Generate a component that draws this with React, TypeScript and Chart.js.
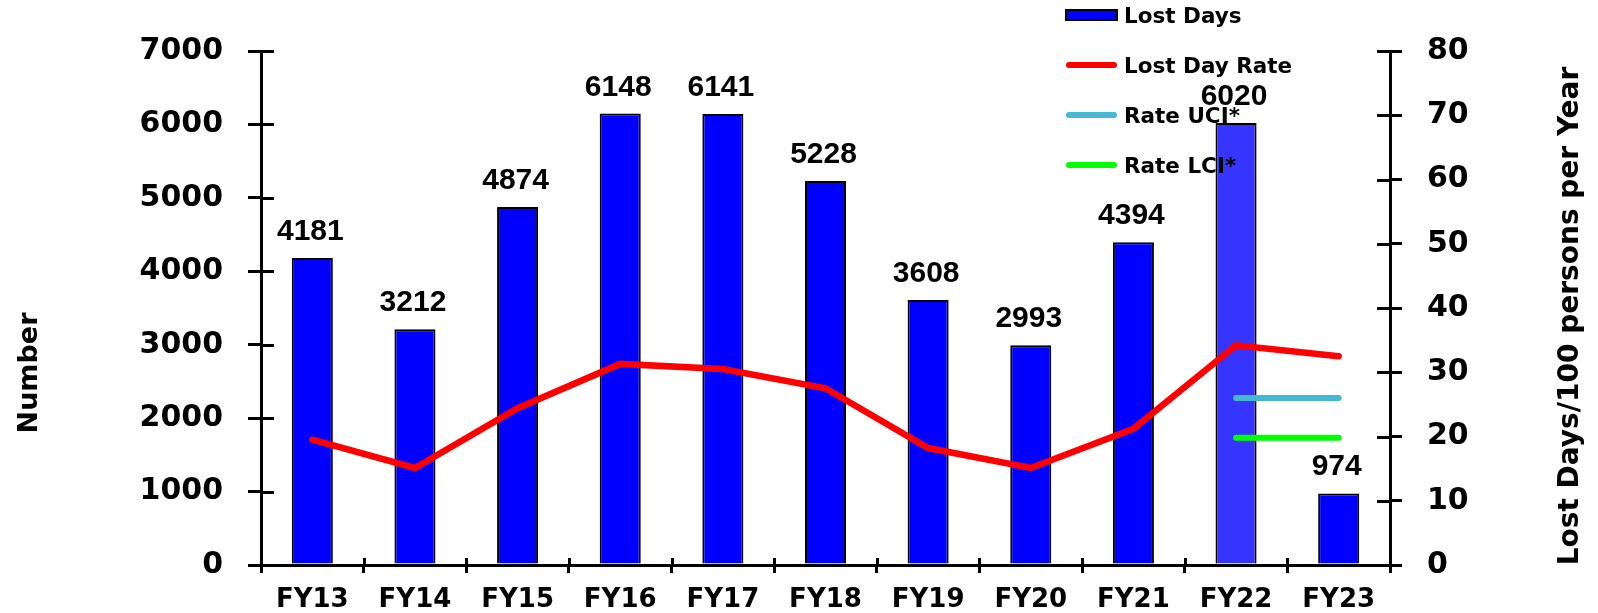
import React, { useEffect, useRef } from 'react';
import { Chart, registerables } from 'chart.js';

Chart.register(...registerables);

const categories = ['FY13', 'FY14', 'FY15', 'FY16', 'FY17', 'FY18', 'FY19', 'FY20', 'FY21', 'FY22', 'FY23'];
const lostDays = [4181, 3212, 4874, 6148, 6141, 5228, 3608, 2993, 4394, 6020, 974];
const lostDayRate = [19.5, 15.1, 24.4, 31.3, 30.5, 27.5, 18.2, 15.1, 21.2, 34.2, 32.5];
const rateUCI = [null, null, null, null, null, null, null, null, null, 26.0, 26.0];
const rateLCI = [null, null, null, null, null, null, null, null, null, 19.8, 19.8];
const leftTicks = { min: 0, max: 7000, step: 1000 };
const rightTicks = { min: 0, max: 80, step: 10 };

const BOLD_DV = "'DejaVu Sans'";

const customPlugin = {
  id: 'customDecor',
  afterDraw(chart: any) {
    const ctx: CanvasRenderingContext2D = chart.ctx;
    const { left, right, bottom } = chart.chartArea;
    const yl = chart.scales.y;
    const yr = chart.scales.y1;
    const xs = chart.scales.x;
    ctx.save();
    // inner halves of the tick marks
    ctx.strokeStyle = '#000';
    ctx.lineWidth = 3;
    ctx.lineCap = 'butt';
    ctx.beginPath();
    yl.ticks.forEach((t: any) => {
      const p = Math.round(yl.getPixelForValue(t.value)) + 0.5;
      ctx.moveTo(left, p);
      ctx.lineTo(left + 13, p);
    });
    yr.ticks.forEach((t: any) => {
      const p = Math.round(yr.getPixelForValue(t.value)) + 0.5;
      ctx.moveTo(right - 13, p);
      ctx.lineTo(right, p);
    });
    for (let i = 1; i < categories.length; i++) {
      const p = Math.round((xs.getPixelForValue(i - 1) + xs.getPixelForValue(i)) / 2) + 0.5;
      ctx.moveTo(p, bottom);
      ctx.lineTo(p, bottom - 7);
    }
    ctx.stroke();

    // value labels above bars
    const meta = chart.getDatasetMeta(0);
    ctx.fillStyle = '#000';
    ctx.font = "bold 30px 'Liberation Sans', Arial, sans-serif";
    ctx.textAlign = 'center';
    ctx.textBaseline = 'alphabetic';
    meta.data.forEach((el: any, i: number) => {
      const v = chart.data.datasets[0].data[i];
      ctx.fillText(String(v), el.x - 2, el.y - 18);
    });

    // axis titles
    ctx.font = `bold 27px ${BOLD_DV}`;
    ctx.save();
    ctx.translate(37, 373);
    ctx.rotate(-Math.PI / 2);
    ctx.textAlign = 'center';
    ctx.fillText('Number', 0, 0);
    ctx.restore();
    ctx.font = `bold 28px ${BOLD_DV}`;
    ctx.save();
    ctx.translate(1578, 316);
    ctx.rotate(-Math.PI / 2);
    ctx.textAlign = 'center';
    ctx.fillText('Lost Days/100 persons per Year', 0, 0);
    ctx.restore();

    // legend
    const lx0 = 1066;
    const lx1 = 1117;
    const centers = [15, 65, 115, 165];
    chart.data.datasets.forEach((ds: any, i: number) => {
      const cy = centers[i];
      if (ds.type === 'bar') {
        ctx.fillStyle = '#0000FF';
        ctx.fillRect(lx0, cy - 5, lx1 - lx0, 10);
        ctx.strokeStyle = '#000';
        ctx.lineWidth = 2;
        ctx.strokeRect(lx0, cy - 5, lx1 - lx0, 10);
      } else {
        ctx.strokeStyle = ds.borderColor;
        ctx.lineWidth = 6;
        ctx.lineCap = 'round';
        ctx.beginPath();
        ctx.moveTo(lx0 + 3, cy);
        ctx.lineTo(lx1 - 3, cy);
        ctx.stroke();
      }
      ctx.fillStyle = '#000';
      ctx.font = `bold 21.5px ${BOLD_DV}`;
      ctx.textAlign = 'left';
      ctx.textBaseline = 'alphabetic';
      ctx.fillText(ds.label, 1124, cy + 8);
    });
    ctx.restore();
  },
};

export default function App() {
  const canvasRef = useRef<HTMLCanvasElement | null>(null);

  useEffect(() => {
    if (!canvasRef.current) return;
    const chart = new Chart(canvasRef.current, {
      data: {
        labels: categories,
        datasets: [
          {
            type: 'bar',
            label: 'Lost Days',
            data: lostDays,
            yAxisID: 'y',
            backgroundColor: categories.map((c) => (c === 'FY22' ? '#3535FF' : '#0000FF')),
            borderColor: '#000',
            borderWidth: 2,
            barPercentage: 0.4,
            categoryPercentage: 1.0,
            order: 4,
          },
          {
            type: 'line',
            label: 'Lost Day Rate',
            data: lostDayRate,
            yAxisID: 'y1',
            borderColor: '#FF0000',
            backgroundColor: '#FF0000',
            borderWidth: 6.5,
            pointRadius: 0,
            tension: 0,
            borderCapStyle: 'round',
            order: 1,
          },
          {
            type: 'line',
            label: 'Rate UCI*',
            data: rateUCI,
            yAxisID: 'y1',
            borderColor: '#45B9D1',
            backgroundColor: '#45B9D1',
            borderWidth: 6,
            pointRadius: 0,
            borderCapStyle: 'round',
            order: 2,
          },
          {
            type: 'line',
            label: 'Rate LCI*',
            data: rateLCI,
            yAxisID: 'y1',
            borderColor: '#00FF00',
            backgroundColor: '#00FF00',
            borderWidth: 6,
            pointRadius: 0,
            borderCapStyle: 'round',
            order: 3,
          },
        ],
      } as any,
      options: {
        responsive: false,
        animation: false,
        devicePixelRatio: 1,
        layout: { padding: { top: 51, left: 0, right: 0, bottom: 0 } },
        plugins: {
          legend: { display: false },
          tooltip: { enabled: false },
        },
        scales: {
          x: {
            type: 'category',
            grid: {
              display: true,
              drawOnChartArea: false,
              drawTicks: true,
              tickLength: 8,
              color: '#000',
              lineWidth: 3,
              offset: true,
            },
            border: { display: true, color: '#000', width: 3 },
            ticks: {
              color: '#000',
              padding: 12,
              maxRotation: 0,
              autoSkip: false,
              font: { family: BOLD_DV, size: 26, weight: 'bold' },
            },
            afterFit: (s: any) => {
              s.height = 48;
            },
          },
          y: {
            type: 'linear',
            position: 'left',
            min: leftTicks.min,
            max: leftTicks.max,
            grid: {
              display: true,
              drawOnChartArea: false,
              drawTicks: true,
              tickLength: 13,
              color: '#000',
              lineWidth: 3,
            },
            border: { display: true, color: '#000', width: 3 },
            ticks: {
              stepSize: leftTicks.step,
              color: '#000',
              padding: 25,
              font: { family: BOLD_DV, size: 30, weight: 'bold' },
              callback: (v: any) => String(v),
            },
            afterFit: (s: any) => {
              s.width = 261;
            },
          },
          y1: {
            type: 'linear',
            position: 'right',
            min: rightTicks.min,
            max: rightTicks.max,
            grid: {
              display: true,
              drawOnChartArea: false,
              drawTicks: true,
              tickLength: 12,
              color: '#000',
              lineWidth: 3,
            },
            border: { display: true, color: '#000', width: 3 },
            ticks: {
              stepSize: rightTicks.step,
              color: '#000',
              padding: 25,
              font: { family: BOLD_DV, size: 30, weight: 'bold' },
              callback: (v: any) => String(v),
            },
            afterFit: (s: any) => {
              s.width = 1598 - 1390;
            },
          },
        },
      } as any,
      plugins: [customPlugin],
    });
    return () => chart.destroy();
  }, []);

  return (
    <div style={{ position: 'absolute', left: 0, top: 0, width: 1598, height: 613, background: '#fff' }}>
      <canvas ref={canvasRef} width={1598} height={613} style={{ display: 'block' }} />
    </div>
  );
}
